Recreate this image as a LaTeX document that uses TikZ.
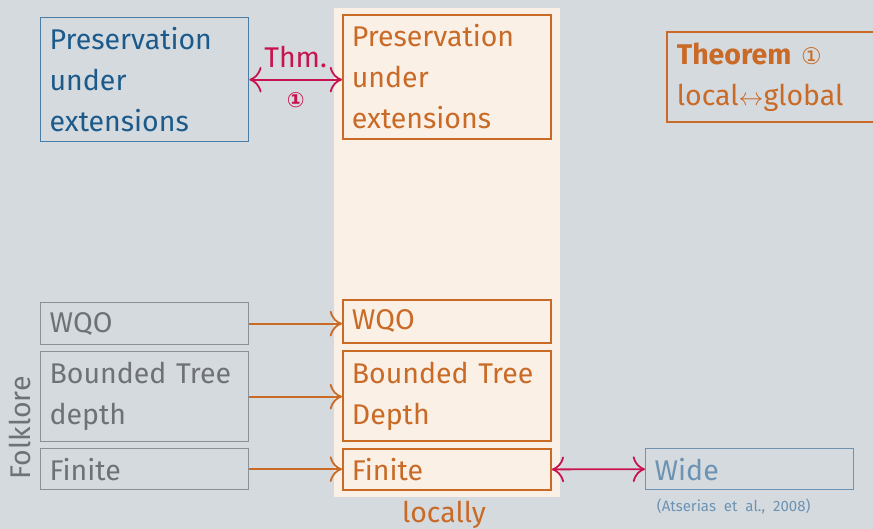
\documentclass[tikz,border=0pt]{standalone}
\usepackage{fontspec}
\setmainfont{Fira Sans}
\newfontfamily\circfont{DejaVu Sans}
\usetikzlibrary{positioning,arrows.meta}

\definecolor{bgcol}{HTML}{D5DADF}
\definecolor{creamcol}{HTML}{FAF0E6}
\definecolor{orangecol}{HTML}{C96A26}
\definecolor{bluecol}{HTML}{1B5A8A}
\definecolor{blueline}{HTML}{4A7DA6}
\definecolor{graytext}{HTML}{6E7276}
\definecolor{grayline}{HTML}{8C9094}
\definecolor{widecol}{HTML}{6C93B3}
\definecolor{thmcol}{HTML}{C8144E}

\tikzset{
  bigtext/.style={font=\fontsize{28.5}{41}\selectfont},
  box/.style={bigtext, anchor=north west, align=left, inner sep=0pt, text width=190pt},
  ubox/.style={box, draw=blueline, text=bluecol, line width=1.3pt},
  obox/.style={box, draw=orangecol, text=orangecol, line width=1.8pt},
  gbox/.style={box, draw=grayline, text=graytext, line width=1.3pt},
  wbox/.style={box, draw=widecol, text=widecol, line width=1.3pt},
  orarrow/.style={-{Computer Modern Rightarrow[scale=2.2]}, orangecol, line width=1.8pt},
  thmarrow/.style={{Computer Modern Rightarrow[scale=2.2]}-{Computer Modern Rightarrow[scale=2.2]}, thmcol, line width=1.8pt}
}

\begin{document}
\begin{tikzpicture}[x=1pt, y=-1pt]
  % Fondo
  \fill[bgcol] (0,0) rectangle (873,529);
  \useasboundingbox (0,0) rectangle (873,529);
  \fill[creamcol] (334,8) rectangle (560,497);

  % Cajas de arriba
  \node[ubox, minimum width=208pt, minimum height=124pt] (pres) at (40,17)
    {Preservation\\under\\extensions};
  \node[obox, minimum width=208pt, minimum height=124pt] (opres) at (342,14)
    {Preservation\\under\\extensions};

  % Teorema
  \node[obox, text width=230pt, minimum width=250pt, minimum height=90pt] (thm) at (666,31)
    {\textbf{Theorem} {\circfont\fontsize{23}{26}\selectfont ①}\\local$\leftrightarrow$global};

  % Cajas grises (folklore)
  \node[gbox, minimum width=208pt, minimum height=42pt] (gwqo) at (40,302) {WQO};
  \node[gbox, minimum width=208pt, minimum height=90pt] (gbtd) at (40,351)
    {Bounded Tree\\depth};
  \node[gbox, minimum width=208pt, minimum height=41pt] (gfin) at (40,448) {Finite};
  \node[rotate=90, bigtext, text=graytext] (folk) at (20,428) {Folklore};

  % Cajas naranjas (localmente)
  \node[obox, minimum width=208pt, minimum height=43pt] (owqo) at (342,299) {WQO};
  \node[obox, minimum width=208pt, minimum height=90pt] (obtd) at (342,350)
    {Bounded Tree\\Depth};
  \node[obox, minimum width=208pt, minimum height=41pt] (ofin) at (342,448) {Finite};
  \node[bigtext, text=orangecol] (loc) at (444,515) {locally};

  % Wide
  \node[wbox, minimum width=208pt, minimum height=41pt] (wide) at (645,448) {Wide};
  \node[text=widecol, font=\fontsize{15}{17}\selectfont, below=5pt of wide.south, xshift=-16pt] (cite)
    {(Atserias\ \ et\ \ al.,\ \ 2008)};

  % Flechas
  \draw[thmarrow] (pres.east) -- (pres.east -| opres.west)
    node[midway, above=8pt, bigtext] (thmlbl) {Thm.}
    node[midway, below=9pt, font=\circfont\bfseries\fontsize{21}{24}\selectfont] (thmnum) {①};
  \draw[orarrow] (gwqo.east) -- (gwqo.east -| owqo.west);
  \draw[orarrow] (gbtd.east) -- (gbtd.east -| obtd.west);
  \draw[orarrow] (gfin.east) -- (gfin.east -| ofin.west);
  \draw[thmarrow] (ofin.east) -- (wide.west);
\end{tikzpicture}
\end{document}
